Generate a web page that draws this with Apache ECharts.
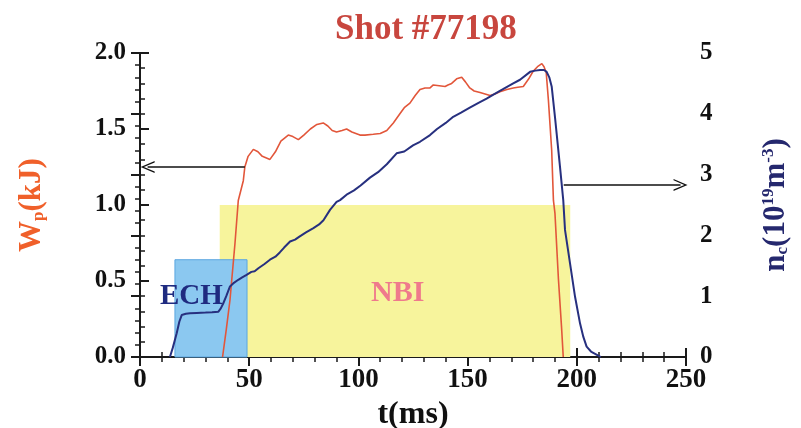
<!DOCTYPE html>
<html>
<head>
<meta charset="utf-8">
<script src="https://cdn.jsdelivr.net/npm/echarts@6/dist/echarts.min.js"></script>
<style>
  html, body { margin: 0; padding: 0; background: #fff; }
  #main { width: 801px; height: 428px; }
</style>
</head>
<body>
<div id="main"></div>
<script>
// Wp (kJ), left axis
var wpTime = [37.8, 39.5, 41.2, 43.5, 45, 47.3, 48, 49.5, 51.9, 54, 56, 59.5, 62, 64.5, 67.9, 70, 72.5, 75, 78, 81, 83.9, 86, 88, 90, 92.5, 94.6, 97, 100.7, 103, 106.8, 110, 113, 116, 119, 121, 123.6, 126, 128.2, 130.5, 132.8, 134.3, 137, 139.7, 141, 142.7, 145, 147.3, 149, 151, 153, 155.7, 158, 160.3, 162.5, 164.8, 168, 170.9, 173, 175.5, 178, 180, 182, 184, 185, 186, 187, 188.5, 189.3, 190, 191.6, 193, 193.8];
var wpValue = [0, 0.18, 0.375, 0.75, 1.03, 1.16, 1.25, 1.32, 1.366, 1.35, 1.32, 1.30, 1.35, 1.42, 1.46, 1.45, 1.43, 1.46, 1.50, 1.53, 1.54, 1.52, 1.49, 1.48, 1.49, 1.50, 1.48, 1.46, 1.46, 1.465, 1.47, 1.49, 1.54, 1.60, 1.64, 1.67, 1.72, 1.76, 1.77, 1.77, 1.79, 1.785, 1.78, 1.79, 1.80, 1.83, 1.84, 1.81, 1.77, 1.75, 1.74, 1.73, 1.72, 1.73, 1.745, 1.76, 1.77, 1.775, 1.78, 1.83, 1.88, 1.91, 1.93, 1.91, 1.87, 1.69, 1.36, 1.03, 0.945, 0.51, 0.2, 0];

// n_e (10^19 m^-3), right axis
var neTime = [13.7, 15, 16.8, 18, 19.1, 21, 22.9, 26, 30, 33, 35.9, 37, 38.1, 39.5, 41.2, 43, 45, 46.8, 48.8, 51, 52.5, 54.2, 57, 59.5, 62, 64, 66, 68.7, 71, 73, 76, 79.4, 82, 84, 87, 90, 91.6, 95, 98, 101, 105.3, 109, 113, 117.5, 121, 125, 128.2, 132.8, 136, 140, 143.4, 147, 151, 155, 158.7, 162, 166, 170.9, 174, 178.6, 181, 183.2, 185, 186.2, 187.4, 188.5, 190, 192.3, 193.8, 194.6, 196.9, 199.2, 201.5, 203, 204.5, 206.5, 209, 211];
var neValue = [0, 0.15, 0.39, 0.58, 0.69, 0.71, 0.72, 0.725, 0.73, 0.735, 0.745, 0.8, 0.88, 1.0, 1.16, 1.22, 1.27, 1.31, 1.35, 1.40, 1.41, 1.46, 1.53, 1.60, 1.65, 1.72, 1.80, 1.90, 1.93, 1.98, 2.05, 2.12, 2.18, 2.25, 2.42, 2.55, 2.58, 2.68, 2.74, 2.82, 2.95, 3.04, 3.17, 3.35, 3.38, 3.48, 3.54, 3.65, 3.75, 3.85, 3.95, 4.02, 4.10, 4.18, 4.25, 4.32, 4.40, 4.50, 4.56, 4.69, 4.71, 4.72, 4.72, 4.69, 4.6, 4.45, 3.95, 3.13, 2.58, 2.09, 1.54, 0.99, 0.55, 0.33, 0.17, 0.09, 0.04, 0];

// heating windows: [t start, t end, height on Wp axis]
var nbiWindow = [36.5, 197, 1.0];
var echWindow = [16, 49, 0.64];

// arrows: [t from, t to, level]
var wpArrow = [48, 3.5, 1.25];
var neArrow = [194, 247.5, 2.83];

var xTicks = [0, 250, 50];
var wpTicks = [0, 2, 0.5];
var neTicks = [0, 5, 1];

function pairs(t, v) {
    return t.map(function (x, i) { return [x, v[i]]; });
}

var serif = '"Liberation Serif", "DejaVu Serif", serif';
var axisColor = '#1a1a1a';
var chevron = 'path://M0,12L6,0L12,12L10.6,12L6,2.8L1.4,12Z';

var tickStyle = { show: true, inside: true, length: 9, lineStyle: { color: axisColor, width: 2 } };
var minorStyle = { show: true, splitNumber: 5, length: 5, lineStyle: { color: axisColor, width: 1.5 } };

function yAxisCommon(pos, ticks) {
    return {
        type: 'value',
        position: pos,
        min: ticks[0], max: ticks[1], interval: ticks[2],
        axisLine: { show: true, lineStyle: { color: axisColor, width: 2 } },
        axisTick: tickStyle,
        minorTick: minorStyle,
        splitLine: { show: false },
        axisLabel: { fontFamily: serif, fontWeight: 'bold', fontSize: 25, color: '#111', margin: 14 }
    };
}

var chart = echarts.init(document.getElementById('main'));

var leftAxis = yAxisCommon('left', wpTicks);
leftAxis.axisLabel.formatter = function (v) { return v.toFixed(1); };
leftAxis.name = '{a|W}{s|p}{a|(kJ)}';
leftAxis.nameLocation = 'middle';
leftAxis.nameRotate = 90;
leftAxis.nameGap = 90;
leftAxis.nameTextStyle = {
    rich: {
        a: { fontFamily: serif, fontWeight: 'bold', fontSize: 31, color: '#f0602a', lineHeight: 36 },
        s: { fontFamily: serif, fontWeight: 'bold', fontSize: 17, color: '#f0602a', lineHeight: 36, padding: [14, 0, 0, 0] }
    }
};

var rightAxis = yAxisCommon('right', neTicks);
rightAxis.name = '{a|n}{s|c}{a|(10}{p|19}{a|m}{p|-3}{a|)}';
rightAxis.nameLocation = 'middle';
rightAxis.nameRotate = 90;
rightAxis.nameGap = 72;
rightAxis.nameTextStyle = {
    rich: {
        a: { fontFamily: serif, fontWeight: 'bold', fontSize: 31, color: '#25286e', lineHeight: 36 },
        s: { fontFamily: serif, fontWeight: 'bold', fontSize: 17, color: '#25286e', lineHeight: 36, padding: [14, 0, 0, 0] },
        p: { fontFamily: serif, fontWeight: 'bold', fontSize: 17, color: '#25286e', lineHeight: 36, padding: [0, 0, 14, 0] }
    }
};

var option = {
    backgroundColor: '#fff',
    animation: false,
    title: {
        text: 'Shot #77198',
        left: 330,
        top: 7,
        textStyle: { fontFamily: serif, fontWeight: 'bold', fontSize: 35, color: '#c8463e' }
    },
    grid: { left: 140, right: 115, top: 53, bottom: 71, outerBoundsMode: 'none' },
    xAxis: [{
        type: 'value',
        position: 'bottom',
        min: xTicks[0], max: xTicks[1], interval: xTicks[2],
        axisLine: { show: true, lineStyle: { color: axisColor, width: 2 } },
        axisTick: tickStyle,
        minorTick: minorStyle,
        splitLine: { show: false },
        axisLabel: { fontFamily: serif, fontWeight: 'bold', fontSize: 27, color: '#111', margin: 10 },
        name: 't(ms)',
        nameLocation: 'middle',
        nameGap: 42,
        nameTextStyle: { fontFamily: serif, fontWeight: 'bold', fontSize: 32, color: '#111' }
    }, {
        type: 'value',
        position: 'top',
        min: xTicks[0], max: xTicks[1], interval: xTicks[2],
        axisLine: { show: true, lineStyle: { color: axisColor, width: 2 } },
        axisTick: tickStyle,
        minorTick: minorStyle,
        splitLine: { show: false },
        axisLabel: { show: false }
    }],
    yAxis: [leftAxis, rightAxis],
    series: [{
        name: 'Wp',
        type: 'line',
        xAxisIndex: 0,
        yAxisIndex: 0,
        showSymbol: false,
        symbol: 'none',
        data: pairs(wpTime, wpValue),
        lineStyle: { color: '#e2563a', width: 1.6 },
        z: 3,
        markArea: {
            silent: true,
            data: [
                [{ coord: [nbiWindow[0], 0], itemStyle: { color: '#f7f49c' } },
                 { coord: [nbiWindow[1], nbiWindow[2]] }],
                [{ coord: [echWindow[0], 0], itemStyle: { color: '#8bc8f0', borderColor: '#5aa6e0', borderWidth: 1 } },
                 { coord: [echWindow[1], echWindow[2]] }]
            ]
        },
        markLine: {
            silent: true,
            symbol: ['none', chevron],
            symbolSize: [12, 14],
            label: { show: false },
            lineStyle: { color: '#111', width: 1.6, type: 'solid' },
            data: [[{ coord: [wpArrow[0], wpArrow[2]] }, { coord: [wpArrow[1], wpArrow[2]] }]]
        },
        markPoint: {
            silent: true,
            symbol: 'circle',
            symbolSize: 0,
            data: [{
                coord: [23.5, 0.4],
                label: { show: true, formatter: 'ECH', fontFamily: serif, fontWeight: 'bold', fontSize: 29, color: '#1f2b80' }
            }, {
                coord: [118, 0.42],
                label: { show: true, formatter: 'NBI', fontFamily: serif, fontWeight: 'bold', fontSize: 30, color: '#ef7a8c' }
            }]
        }
    }, {
        name: 'ne',
        type: 'line',
        xAxisIndex: 0,
        yAxisIndex: 1,
        showSymbol: false,
        symbol: 'none',
        data: pairs(neTime, neValue),
        lineStyle: { color: '#27307f', width: 2 },
        z: 4,
        markLine: {
            silent: true,
            symbol: ['none', chevron],
            symbolSize: [12, 14],
            label: { show: false },
            lineStyle: { color: '#111', width: 1.6, type: 'solid' },
            data: [[{ coord: [neArrow[0], neArrow[2]] }, { coord: [neArrow[1], neArrow[2]] }]]
        }
    }]
};

chart.setOption(option);
window.addEventListener('resize', function () {
    chart.resize();
});
</script>
</body>
</html>
